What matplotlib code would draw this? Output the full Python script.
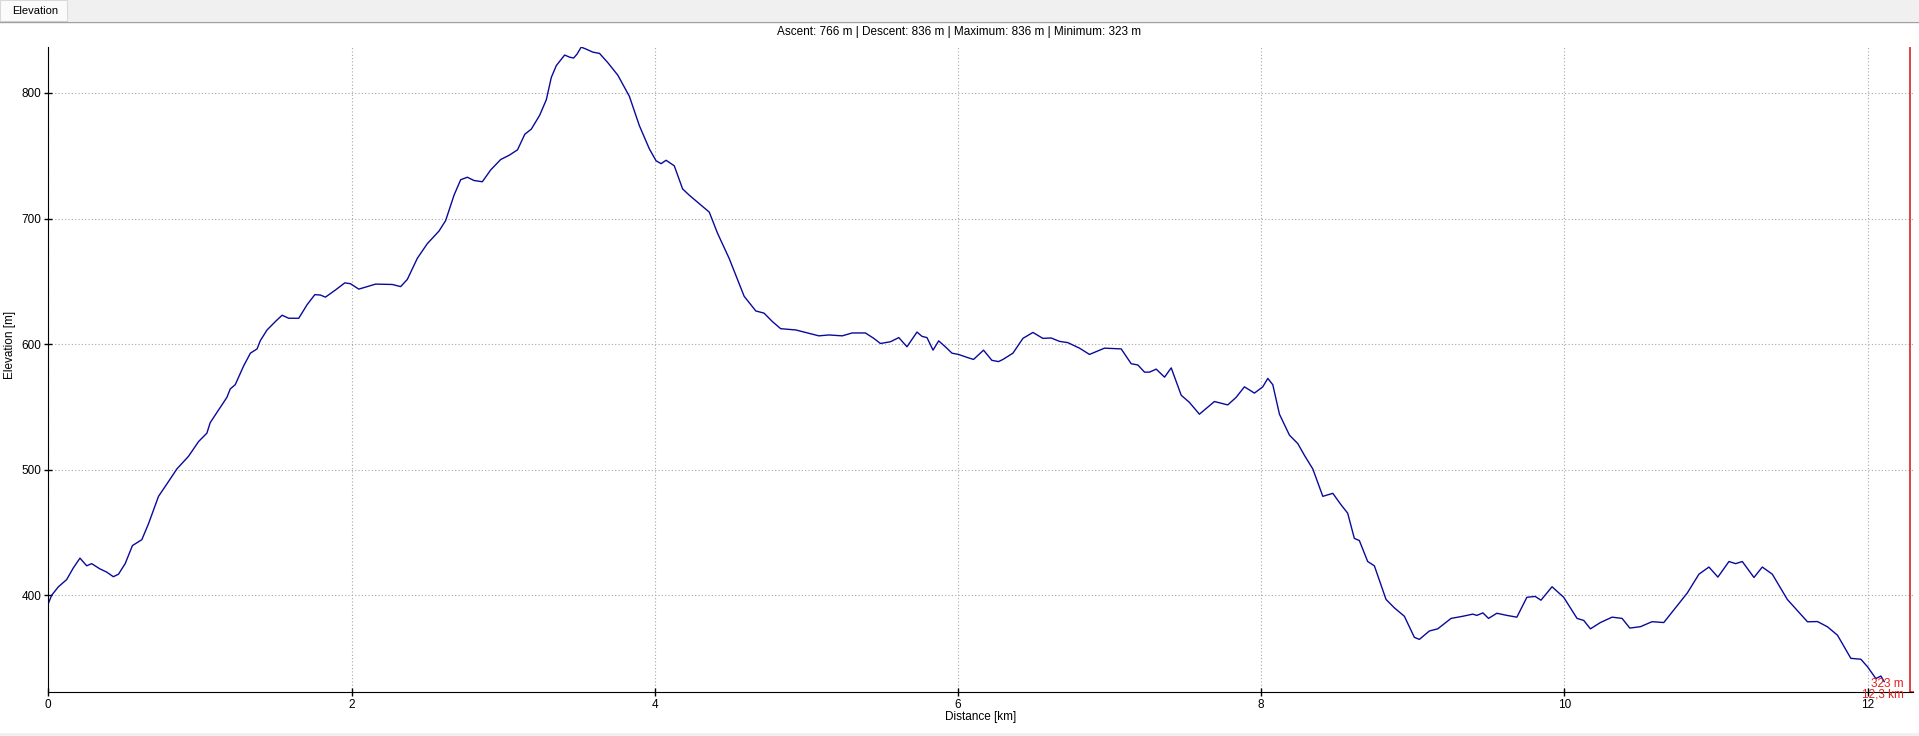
import matplotlib
matplotlib.use("Agg")
import matplotlib.pyplot as plt
from matplotlib.patches import Rectangle

plt.rcParams['font.family'] = ['Liberation Sans', 'DejaVu Sans']

# elevation profile
dist_km = [0, 0.022, 0.066, 0.121, 0.165, 0.209, 0.253, 0.286, 0.341, 0.385,
           0.429, 0.463, 0.507, 0.555, 0.617, 0.661, 0.727, 0.793, 0.848, 0.925,
           0.991, 1.046, 1.068, 1.123, 1.178, 1.2, 1.233, 1.289, 1.333, 1.377,
           1.399, 1.443, 1.498, 1.542, 1.586, 1.652, 1.707, 1.758, 1.795, 1.828,
           1.894, 1.956, 1.993, 2.048, 2.104, 2.159, 2.269, 2.324, 2.368, 2.434,
           2.5, 2.577, 2.621, 2.676, 2.72, 2.764, 2.808, 2.863, 2.918, 2.984,
           3.04, 3.095, 3.143, 3.186, 3.241, 3.285, 3.318, 3.351, 3.406, 3.439,
           3.465, 3.487, 3.515, 3.548, 3.592, 3.636, 3.691, 3.757, 3.833, 3.899,
           3.965, 4.009, 4.042, 4.075, 4.129, 4.184, 4.228, 4.294, 4.36, 4.414,
           4.491, 4.546, 4.59, 4.667, 4.721, 4.776, 4.831, 4.93, 5.007, 5.083,
           5.149, 5.237, 5.303, 5.39, 5.445, 5.489, 5.555, 5.61, 5.664, 5.73,
           5.763, 5.796, 5.836, 5.873, 5.917, 5.961, 6.004, 6.059, 6.103, 6.169,
           6.224, 6.268, 6.297, 6.363, 6.429, 6.495, 6.56, 6.615, 6.67, 6.725,
           6.802, 6.868, 6.967, 7.077, 7.143, 7.187, 7.231, 7.264, 7.308, 7.363,
           7.407, 7.473, 7.527, 7.593, 7.692, 7.78, 7.835, 7.89, 7.956, 8.011,
           8.044, 8.077, 8.121, 8.187, 8.242, 8.286, 8.341, 8.407, 8.473, 8.527,
           8.571, 8.615, 8.648, 8.703, 8.747, 8.824, 8.879, 8.945, 9.011, 9.044,
           9.11, 9.165, 9.253, 9.33, 9.396, 9.423, 9.463, 9.5, 9.555, 9.621,
           9.687, 9.753, 9.808, 9.846, 9.919, 9.996, 10.084, 10.128, 10.172, 10.238,
           10.315, 10.381, 10.432, 10.502, 10.579, 10.656, 10.722, 10.811, 10.888, 10.954,
           11.013, 11.086, 11.13, 11.174, 11.251, 11.306, 11.372, 11.471, 11.604, 11.67,
           11.736, 11.802, 11.89, 11.956, 12.0, 12.055, 12.088, 12.11]
elev_m = [393.4, 400, 406.7, 412.5, 421.8, 429.6, 423.5, 425.2, 421, 418.5,
          414.8, 416.8, 425.2, 439.6, 444.3, 457, 478.8, 490.6, 500.6, 510.7,
          522.4, 529.1, 537.5, 547.6, 557.6, 564.3, 567.7, 582.8, 592.8, 596.2,
          602.9, 611.3, 618, 623, 620.6, 620.6, 631.4, 639.4, 639.1, 637.4,
          643.1, 648.8, 648.1, 643.8, 645.8, 647.8, 647.5, 645.8, 651.5, 668.3,
          680, 690, 698.4, 718.5, 730.9, 732.9, 730.3, 729.3, 738.7, 747,
          750.4, 754.7, 767.1, 771.2, 782.2, 794.6, 812.4, 821.8, 830.2, 828.5,
          827.8, 830.8, 836.5, 834.9, 832.5, 831.5, 824.1, 814.1, 797.3, 773.9,
          755.4, 746, 743.7, 746.4, 742, 723.6, 718.6, 711.8, 705.1, 688.4,
          668.3, 651.5, 638.1, 626.4, 624.7, 618, 612.3, 611.3, 608.9, 606.6,
          607.3, 606.6, 608.9, 608.9, 604.6, 600.5, 601.9, 605.2, 597.9, 609.6,
          606.2, 605.2, 595.2, 602.6, 597.9, 592.8, 591.8, 589.5, 587.8, 595.2,
          587.1, 586.1, 587.8, 592.8, 604.6, 609.3, 604.6, 604.9, 602.2, 601.2,
          596.8, 591.8, 596.8, 596.2, 584.4, 583.4, 577.7, 577.7, 580.1, 573.7,
          581.1, 559.3, 553.6, 544.2, 554.3, 551.6, 557.6, 566, 561, 566,
          572.7, 567.7, 544.2, 527.5, 520.8, 511.4, 500.6, 478.8, 481.2, 472.1,
          465.4, 445.3, 443.6, 426.9, 423.5, 396.7, 390, 383.3, 366.5, 364.9,
          371.6, 373.3, 381.6, 383.3, 385, 384, 386, 381.6, 385.7, 384,
          382.6, 398.4, 399.1, 396.1, 406.8, 398.4, 381.6, 380, 373.3, 378.3,
          382.6, 381.6, 373.9, 375, 379, 378.3, 388.3, 401.8, 416.8, 422.5,
          414.5, 426.9, 425.2, 426.9, 414.2, 422.5, 416.8, 396.7, 378.9, 379.1,
          374.9, 368.2, 349.8, 349.1, 343.1, 333.7, 335.7, 331.3]

x_ticks = [0, 2, 4, 6, 8, 10, 12]
y_ticks = [400, 500, 600, 700, 800]
ascent, descent, maximum, minimum = 766, 836, 836, 323
total_km = 12.3
cursor_km = 12.28

fig = plt.figure(figsize=(19.19, 7.36), dpi=100, facecolor="white")

# window chrome: tab strip on top, thin strip at the bottom
fig.patches.append(Rectangle((0, 1 - 21 / 736), 1, 21 / 736, transform=fig.transFigure,
                             facecolor="#f0f0f0", edgecolor="none", zorder=0))
fig.add_artist(plt.Line2D([0, 1], [1 - 21.5 / 736] * 2, transform=fig.transFigure,
                          color="#a0a0a0", lw=1))
fig.patches.append(Rectangle((0, 1 - 21 / 736), 67 / 1919, 21 / 736, transform=fig.transFigure,
                             facecolor="#fbfbfb", edgecolor="#d9d9d9", lw=0.8, zorder=1))
fig.text(12 / 1919, 1 - 11 / 736, "Elevation", fontsize=8, va="center", ha="left")
fig.patches.append(Rectangle((0, 0), 1, 3 / 736, transform=fig.transFigure,
                             facecolor="#f0f0f0", edgecolor="none"))

ax = fig.add_axes([48.3 / 1919, 1 - 692 / 736, (1913 - 48.3) / 1919, (692 - 47) / 736])
ax.plot(dist_km, elev_m, color="#0a0a9a", lw=1.0)

ax.set_xlim(0, total_km)
ax.set_ylim(minimum, 836.6)
ax.set_xticks(x_ticks)
ax.set_yticks(y_ticks)
ax.grid(True, linestyle=(0, (1, 2)), color="#a8a8a8", lw=0.8)
ax.tick_params(direction="inout", length=6, width=1, labelsize=8.5, pad=2)
for s in ["top", "right"]:
    ax.spines[s].set_visible(False)

ax.set_xlabel("Distance [km]", fontsize=8.5, labelpad=0)
fig.text(10 / 1919, 1 - 345 / 736, "Elevation [m]", rotation=90, fontsize=8.5,
         ha="center", va="center")

# cursor marker at the end of the track
ax.axvline(cursor_km, color="#e02020", lw=1.2)
ax.plot([cursor_km, total_km], [minimum, minimum], color="#e02020", lw=1.2, clip_on=False)
ax.text(cursor_km - 0.04, minimum + 6.4, f"{minimum} m", color="#e02020", fontsize=8.5,
        ha="right", va="center")
ax.text(cursor_km - 0.04, minimum - 1.8, "12,3 km", color="#e02020", fontsize=8.5,
        ha="right", va="center", clip_on=False)

fig.text(0.5, 1 - 32 / 736,
         f"Ascent: {ascent} m | Descent: {descent} m | Maximum: {maximum} m | Minimum: {minimum} m",
         fontsize=8.5, ha="center", va="center")

fig.savefig("out.png", dpi=100, facecolor="white")
